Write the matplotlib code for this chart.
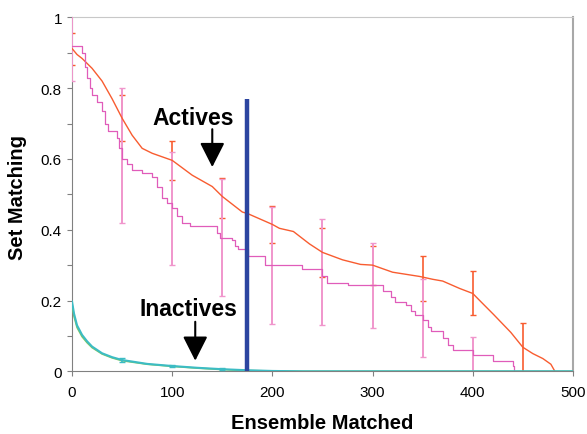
import numpy as np
from matplotlib import pyplot as plt

plt.rcParams['font.family'] = ['Liberation Sans', 'DejaVu Sans']

# actives, series 1 (orange)
act1_x = [0, 5, 10, 20, 30, 40, 50, 60, 70, 80, 100, 120, 140, 150, 170, 175,
          200, 207, 221, 237, 250, 270, 288, 300, 320, 347, 360, 370, 387, 400,
          408, 421, 438, 450, 460, 470, 478, 482]
act1_y = [0.912, 0.895, 0.884, 0.856, 0.82, 0.77, 0.715, 0.667, 0.63, 0.616,
          0.596, 0.554, 0.522, 0.494, 0.45, 0.446, 0.415, 0.404, 0.395, 0.36,
          0.336, 0.315, 0.302, 0.30, 0.28, 0.268, 0.26, 0.255, 0.234, 0.22,
          0.197, 0.16, 0.11, 0.068, 0.05, 0.036, 0.02, 0.0]

# actives, series 2 (magenta, stepped)
act2_x = [0, 10, 13, 15, 18, 20, 25, 30, 33, 36, 45, 47, 50, 55, 60, 70, 80,
          85, 90, 95, 100, 105, 110, 118, 145, 148, 160, 163, 166, 176, 193,
          230, 250, 255, 275, 310, 318, 322, 333, 338, 342, 350, 355, 358, 370,
          375, 380, 400, 420, 440, 441, 500]
act2_y = [0.92, 0.90, 0.86, 0.83, 0.80, 0.78, 0.76, 0.735, 0.70, 0.678, 0.66,
          0.63, 0.60, 0.585, 0.57, 0.56, 0.55, 0.52, 0.49, 0.475, 0.46, 0.44,
          0.42, 0.41, 0.39, 0.378, 0.37, 0.355, 0.345, 0.325, 0.30, 0.29, 0.27,
          0.25, 0.243, 0.226, 0.21, 0.195, 0.187, 0.17, 0.159, 0.145, 0.125,
          0.113, 0.093, 0.075, 0.06, 0.046, 0.028, 0.014, 0.0, 0.0]

# error bars
err_x = [0, 50, 100, 150, 200, 250, 300, 350, 400, 450]
act1_mean = [0.91, 0.715, 0.596, 0.49, 0.415, 0.336, 0.30, 0.263, 0.22, 0.068]
act1_err = [0.045, 0.065, 0.055, 0.057, 0.053, 0.07, 0.055, 0.064, 0.062, 0.069]
act2_mean = [0.92, 0.61, 0.46, 0.378, 0.30, 0.28, 0.243, 0.15, 0.046]
act2_err = [0.10, 0.19, 0.16, 0.165, 0.165, 0.15, 0.12, 0.11, 0.052]

# inactives
inact_x = [0, 1, 2, 5, 10, 15, 20, 30, 40, 50, 75, 100, 125, 150, 175, 200,
           230, 500]
inact1_y = [0.197, 0.18, 0.163, 0.13, 0.103, 0.085, 0.07, 0.051, 0.04, 0.032,
            0.021, 0.015, 0.01, 0.006, 0.003, 0.001, 0.0, 0.0]
inact2_y = [0.19, 0.172, 0.155, 0.124, 0.098, 0.081, 0.067, 0.049, 0.038,
            0.03, 0.02, 0.014, 0.009, 0.005, 0.002, 0.001, 0.0, 0.0]
inact_err_x = [50, 100, 150]
inact_mean = [0.032, 0.015, 0.006]
inact_err = [0.006, 0.004, 0.003]

cutoff = 175
cutoff_top = 0.77

fig = plt.figure(figsize=(5.87, 4.35), dpi=100)
ax = fig.add_axes([0.1227, 0.1441, 0.8533, 0.8137])

orange = '#f85c30'
magenta = '#e05cba'
pink = '#f096cc'
cyan = '#3cbcc4'

ax.errorbar(err_x, act1_mean, yerr=act1_err, fmt='none', ecolor=orange,
            elinewidth=1.2, capsize=2.5, capthick=1.0, zorder=2)
ax.errorbar(err_x[:len(act2_mean)], act2_mean, yerr=act2_err, fmt='none',
            ecolor=pink, elinewidth=1.4, capsize=2.5, capthick=1.0, zorder=3)
ax.plot(act1_x, act1_y, color=orange, lw=1.0, zorder=4)
ax.plot(act2_x, act2_y, color=magenta, lw=0.9, drawstyle='steps-post', zorder=4)

ax.plot(inact_x, inact2_y, color='#80c860', lw=1.2, zorder=5)
ax.plot(inact_x, inact1_y, color=cyan, lw=1.5, zorder=6)
ax.errorbar(inact_err_x, inact_mean, yerr=inact_err, fmt='none', ecolor=cyan,
            elinewidth=1.2, capsize=2.5, zorder=6)

ax.vlines(cutoff, 0, cutoff_top, color='#2c45a0', lw=3.2, zorder=7)

ax.text(121, 0.699, 'Actives', ha='center', va='baseline', fontsize=16.5,
        fontweight='bold')
ax.annotate('', xy=(140, 0.577), xytext=(140, 0.684),
            arrowprops=dict(arrowstyle='-|>,head_length=0.75,head_width=0.38',
                            mutation_scale=20, color='black', lw=1.5,
                            shrinkA=0, shrinkB=0))
ax.text(116, 0.16, 'Inactives', ha='center', va='baseline', fontsize=16.5,
        fontweight='bold')
ax.annotate('', xy=(123, 0.03), xytext=(123, 0.14),
            arrowprops=dict(arrowstyle='-|>,head_length=0.75,head_width=0.38',
                            mutation_scale=20, color='black', lw=1.5,
                            shrinkA=0, shrinkB=0))

ax.set_xlim(0, 500)
ax.set_ylim(0, 1)
ax.set_xticks([0, 100, 200, 300, 400, 500])
ax.set_yticks([0, 0.2, 0.4, 0.6, 0.8, 1.0])
ax.set_yticklabels(['0', '0.2', '0.4', '0.6', '0.8', '1'])
ax.set_yticks([0.1, 0.3, 0.5, 0.7, 0.9], minor=True)
ax.tick_params(axis='both', which='both', labelsize=11, colors='#808080',
               labelcolor='black', length=3.8, width=0.8)
ax.tick_params(axis='x', pad=6)
ax.tick_params(axis='y', pad=3.5)

for side in ['left', 'bottom']:
    ax.spines[side].set_color('#808080')
ax.spines['top'].set_color('#c8c8c8')
ax.spines['right'].set_color('#a8a8a8')
ax.spines['right'].set_linewidth(1.5)

ax.set_xlabel('Ensemble Matched', fontsize=14.5, fontweight='bold')
ax.set_ylabel('Set Matching', fontsize=14.5, fontweight='bold')
ax.xaxis.set_label_coords(0.5, -0.118)
ax.yaxis.set_label_coords(-0.09, 0.494)

fig.savefig('out.png', dpi=100)
